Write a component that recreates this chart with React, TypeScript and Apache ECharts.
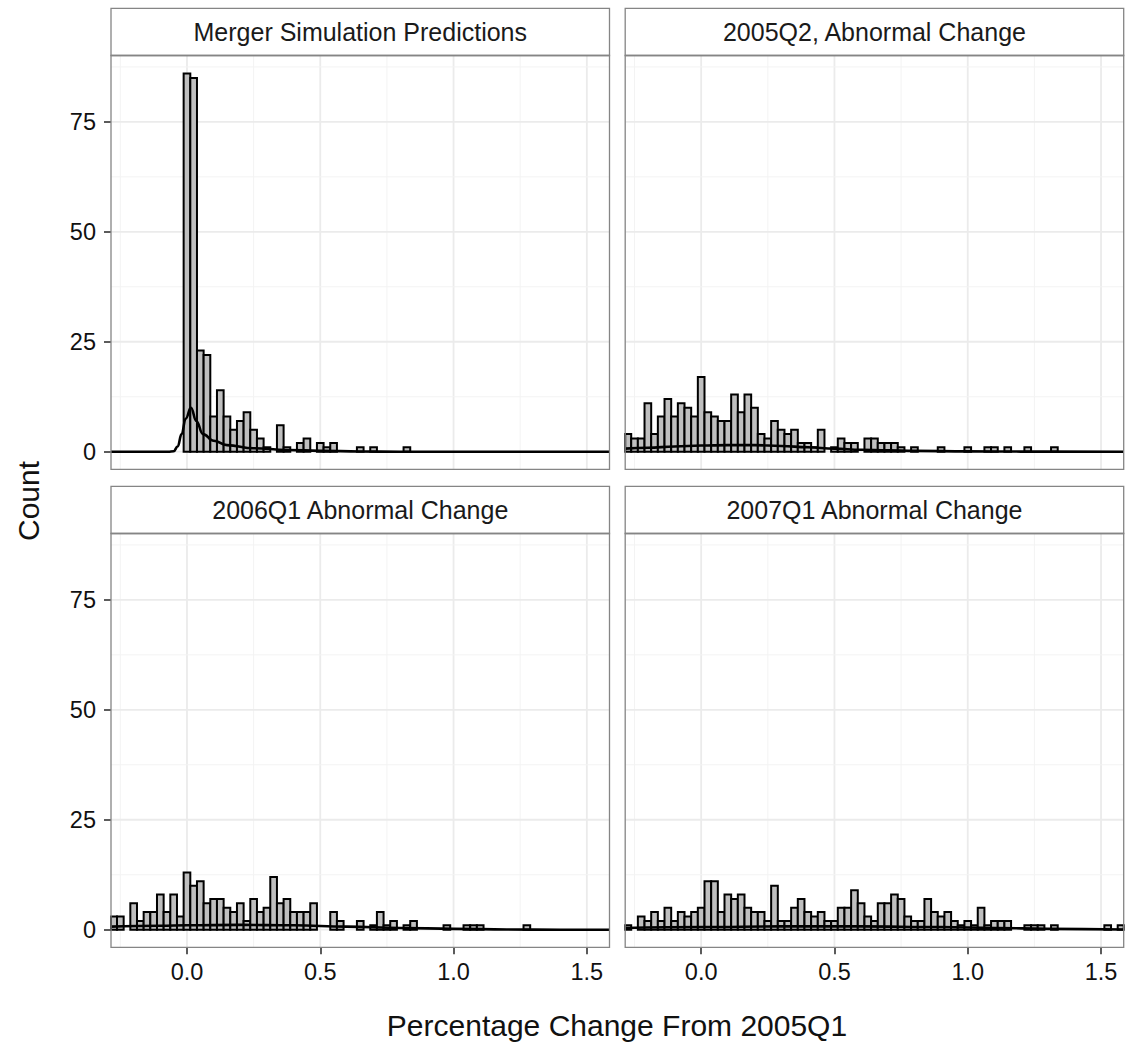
import React, { useEffect, useRef } from "react";
import * as echarts from "echarts";

// ---------- data ----------
const BIN_WIDTH = 0.025;
const X_MIN = -0.285;
const X_MAX = 1.585;
const Y_MIN = -4.0;
const Y_MAX = 90.1;

const xTicks = [0, 0.5, 1.0, 1.5];
const xMinor = [-0.25, 0.25, 0.75, 1.25];
const yTicks = [0, 25, 50, 75];
const yMinor = [12.5, 37.5, 62.5, 87.5];

const panelTitles = [
  "Merger Simulation Predictions",
  "2005Q2, Abnormal Change",
  "2006Q1 Abnormal Change",
  "2007Q1 Abnormal Change",
];

// first bin index (bin centre = index * BIN_WIDTH) and the counts that follow
const mergerStart = 0;
const mergerCounts = [86, 85, 23, 22, 8, 14, 8, 5, 7, 9, 5, 3, 1, 0, 6, 1, 0, 2, 3, 0, 2, 1, 2, 0, 0, 0, 1, 0, 1, 0, 0, 0, 0, 1];

const q2005Start = -11;
const q2005Counts = [4, 3, 3, 11, 4, 8, 12, 8, 11, 10, 8, 17, 9, 8, 7, 7, 13, 9, 13, 10, 4, 3, 7, 5, 4, 5, 2, 2, 1, 5, 0, 1, 3, 2, 2, 0, 3, 3, 2, 2, 2, 1, 0, 1, 0, 0, 0, 1, 0, 0, 0, 1, 0, 0, 1, 1, 0, 1, 0, 0, 1, 0, 0, 0, 1];

const q2006Start = -11;
const q2006Counts = [3, 3, 0, 6, 2, 4, 4, 8, 4, 8, 3, 13, 10, 11, 6, 7, 7, 5, 4, 6, 2, 7, 4, 5, 12, 6, 7, 4, 4, 4, 6, 0, 0, 4, 2, 0, 0, 2, 0, 1, 4, 1, 2, 0, 1, 2, 0, 0, 0, 0, 1, 0, 0, 1, 1, 1, 0, 0, 0, 0, 0, 0, 1];

const q2007Start = -11;
const q2007Counts = [1, 0, 3, 2, 4, 2, 5, 2, 4, 3, 4, 5, 11, 11, 4, 8, 7, 8, 5, 4, 4, 2, 10, 2, 2, 5, 7, 4, 3, 4, 2, 2, 5, 5, 9, 6, 3, 2, 6, 6, 8, 7, 3, 2, 2, 7, 4, 3, 4, 2, 1, 2, 1, 5, 1, 2, 2, 2, 0, 0, 1, 1, 1, 0, 1, 0, 0, 0, 0, 0, 0, 0, 1, 0, 1];

// density curves: [x, count]
const mergerDensity = [
  [-0.285, 0], [-0.07, 0], [-0.05, 0.1], [-0.035, 1.2], [-0.02, 4.0], [-0.005, 7.5], [0.015, 10],
  [0.035, 7], [0.06, 4], [0.1, 2.5], [0.15, 1.5], [0.25, 0.8], [0.375, 0.4], [0.5, 0.2], [0.65, 0.05], [0.8, 0], [1.585, 0],
];
const q2005Density = [
  [-0.285, 0.7], [-0.2, 0.9], [-0.1, 1.2], [0, 1.4], [0.1, 1.5], [0.2, 1.5], [0.3, 1.3], [0.4, 1.0],
  [0.5, 0.7], [0.6, 0.45], [0.7, 0.3], [0.8, 0.2], [1.0, 0.08], [1.2, 0.03], [1.585, 0],
];
const q2006Density = [
  [-0.285, 0.7], [-0.1, 0.9], [0, 1.0], [0.2, 1.1], [0.4, 1.0], [0.6, 0.7], [0.8, 0.4], [1.0, 0.2], [1.2, 0.05], [1.4, 0], [1.585, 0],
];
const q2007Density = [
  [-0.285, 0.4], [0, 0.6], [0.3, 0.75], [0.6, 0.75], [0.9, 0.6], [1.1, 0.4], [1.3, 0.2], [1.585, 0.05],
];

const panelCounts = [
  { start: mergerStart, counts: mergerCounts, density: mergerDensity },
  { start: q2005Start, counts: q2005Counts, density: q2005Density },
  { start: q2006Start, counts: q2006Counts, density: q2006Density },
  { start: q2007Start, counts: q2007Counts, density: q2007Density },
];

// ---------- layout ----------
const FONT = "'Liberation Sans', Arial, sans-serif";
const TEXT = "#111111";
const BORDER = "#858585";
const LEFTS = [111, 625.2];
const TOPS = [55.5, 533.5];
const PW = 498.5;
const PH = 413.8;
const STRIP_H = 47.2;

function panelBox(i: number) {
  return { left: LEFTS[i % 2], top: TOPS[Math.floor(i / 2)] };
}

export default function App() {
  const ref = useRef<HTMLDivElement>(null);

  useEffect(() => {
    if (!ref.current) return;
    const chart = echarts.init(ref.current, undefined, { renderer: "svg" });

    const grids: any[] = [];
    const xAxes: any[] = [];
    const yAxes: any[] = [];
    const series: any[] = [];
    const graphics: any[] = [];

    const gridData: number[][] = [];
    xTicks.forEach((v) => gridData.push([v, 0, 1]));
    xMinor.forEach((v) => gridData.push([v, 0, 0]));
    yTicks.forEach((v) => gridData.push([v, 1, 1]));
    yMinor.forEach((v) => gridData.push([v, 1, 0]));

    for (let i = 0; i < 4; i++) {
      const { left, top } = panelBox(i);
      const bottomRow = i >= 2;
      const leftCol = i % 2 === 0;
      grids.push({ left, top, width: PW, height: PH, show: false, containLabel: false });
      xAxes.push({
        type: "value",
        gridIndex: i,
        min: X_MIN,
        max: X_MAX,
        axisLine: { show: false, onZero: false },
        splitLine: { show: false },
        axisTick: {
          show: bottomRow,
          customValues: xTicks,
          length: 7,
          lineStyle: { color: "#333", width: 1.6 },
        },
        axisLabel: {
          show: bottomRow,
          customValues: xTicks,
          formatter: (v: number) => v.toFixed(1),
          fontSize: 23.5,
          fontFamily: FONT,
          color: TEXT,
          margin: 13,
        },
      });
      yAxes.push({
        type: "value",
        gridIndex: i,
        min: Y_MIN,
        max: Y_MAX,
        axisLine: { show: false, onZero: false },
        splitLine: { show: false },
        axisTick: {
          show: leftCol,
          customValues: yTicks,
          length: 7,
          lineStyle: { color: "#333", width: 1.6 },
        },
        axisLabel: {
          show: leftCol,
          customValues: yTicks,
          formatter: (v: number) => String(v),
          fontSize: 23.5,
          fontFamily: FONT,
          color: TEXT,
          margin: 15,
        },
      });

      // grid lines
      series.push({
        type: "custom",
        xAxisIndex: i,
        yAxisIndex: i,
        silent: true,
        z: 1,
        data: gridData,
        renderItem: (params: any, api: any) => {
          const v = api.value(0);
          const dir = api.value(1);
          const major = api.value(2) === 1;
          const cs = params.coordSys;
          const style = { stroke: major ? "#ebebeb" : "#f3f3f3", lineWidth: major ? 1.8 : 1 };
          if (dir === 0) {
            const p = api.coord([v, 0]);
            return { type: "line", shape: { x1: p[0], y1: cs.y, x2: p[0], y2: cs.y + cs.height }, style };
          }
          const p = api.coord([0, v]);
          return { type: "line", shape: { x1: cs.x, y1: p[1], x2: cs.x + cs.width, y2: p[1] }, style };
        },
      });

      // histogram bars
      const pc = panelCounts[i];
      const bars = pc.counts
        .map((c, j) => {
          const center = (pc.start + j) * BIN_WIDTH;
          return [center - BIN_WIDTH / 2, center + BIN_WIDTH / 2, c];
        })
        .filter((d) => d[2] > 0);
      series.push({
        type: "custom",
        xAxisIndex: i,
        yAxisIndex: i,
        silent: true,
        z: 3,
        encode: { x: [0, 1], y: 2 },
        data: bars,
        renderItem: (params: any, api: any) => {
          const p0 = api.coord([api.value(0), api.value(2)]);
          const p1 = api.coord([api.value(1), 0]);
          const cs = params.coordSys;
          const r = echarts.graphic.clipRectByRect(
            { x: p0[0], y: p0[1], width: p1[0] - p0[0], height: p1[1] - p0[1] },
            { x: cs.x, y: cs.y, width: cs.width, height: cs.height }
          );
          if (!r) return null;
          return {
            type: "rect",
            shape: r,
            style: { fill: "#bfbfbf", stroke: "#000", lineWidth: 2.0 },
          };
        },
      });

      // density line
      series.push({
        type: "line",
        xAxisIndex: i,
        yAxisIndex: i,
        silent: true,
        z: 4,
        data: pc.density,
        smooth: 0.45,
        smoothMonotone: "x",
        showSymbol: false,
        symbol: "none",
        lineStyle: { color: "#000", width: 2.6 },
      });

      // strip
      graphics.push({
        type: "rect",
        z: 50,
        shape: { x: left, y: top - STRIP_H, width: PW, height: STRIP_H },
        style: { fill: "#ffffff", stroke: BORDER, lineWidth: 1.3 },
      });
      graphics.push({
        type: "text",
        z: 51,
        x: left + PW / 2,
        y: top - STRIP_H / 2,
        style: {
          text: panelTitles[i],
          fill: "#1a1a1a",
          font: `25px ${FONT}`,
          align: "center",
          verticalAlign: "middle",
          textAlign: "center",
          textVerticalAlign: "middle",
        },
      });
      // panel border
      graphics.push({
        type: "rect",
        z: 50,
        shape: { x: left, y: top, width: PW, height: PH },
        style: { fill: "none", stroke: BORDER, lineWidth: 1.3 },
      });
    }

    graphics.push({
      type: "text",
      z: 51,
      x: 617,
      y: 1025,
      style: {
        text: "Percentage Change From 2005Q1",
        fill: TEXT,
        font: `30px ${FONT}`,
        align: "center",
        verticalAlign: "middle",
        textAlign: "center",
        textVerticalAlign: "middle",
      },
    });
    graphics.push({
      type: "text",
      z: 51,
      x: 28,
      y: 501,
      rotation: Math.PI / 2,
      style: {
        text: "Count",
        fill: TEXT,
        font: `30px ${FONT}`,
        align: "center",
        verticalAlign: "middle",
        textAlign: "center",
        textVerticalAlign: "middle",
      },
    });

    chart.setOption({
      animation: false,
      backgroundColor: "#ffffff",
      textStyle: { fontFamily: FONT },
      grid: grids,
      xAxis: xAxes,
      yAxis: yAxes,
      series,
      graphic: { elements: graphics },
    });

    return () => chart.dispose();
  }, []);

  return (
    <div
      ref={ref}
      style={{ position: "fixed", left: 0, top: 0, width: 1127, height: 1045, background: "#fff" }}
    />
  );
}
